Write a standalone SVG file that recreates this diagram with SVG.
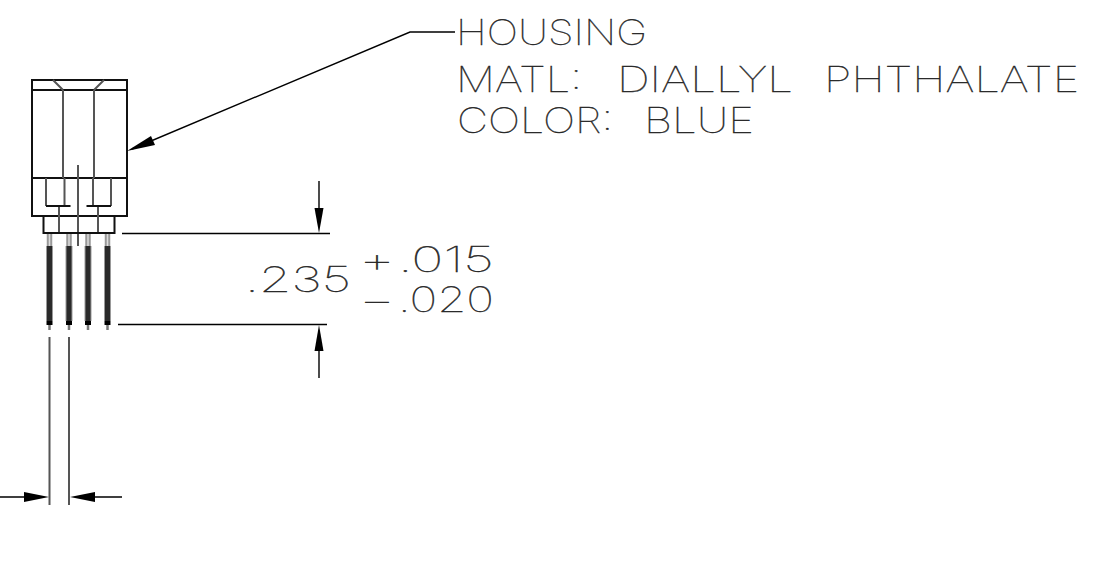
<svg xmlns="http://www.w3.org/2000/svg" width="1102" height="573" viewBox="0 0 1102 573">
<style>
.l{fill:none;stroke:#000;stroke-width:1.4}
.g{fill:none;stroke:#555;stroke-width:2}
.k{fill:none;stroke:#111;stroke-width:2}
.a{fill:#000;stroke:none}
.pu{fill:none;stroke:#999;stroke-width:5.5}
.pc{fill:none;stroke:#ddd;stroke-width:1.5}
.pe{fill:none;stroke:#999;stroke-width:7}
.pd{fill:none;stroke:#2a2a2a;stroke-width:5}
.pb{fill:none;stroke:#000;stroke-width:6}
.pt{fill:none;stroke:#777;stroke-width:2.5}
text{font-family:"Inter","Liberation Sans",sans-serif;font-weight:100;font-size:35px;fill:#222;stroke:#222;stroke-width:.35}
</style>
<rect width="1102" height="573" fill="#fff"/>
<g id="housing">
<rect class="k" x="32" y="80" width="95" height="136"/>
<path class="k" d="M31 90H127M31 178H127" stroke-width="2.4"/>
<path class="g" d="M63 90V178M94 90V178M53 80L63 90M104 80L94 90M78 165V246"/>
<path class="g" d="M46 178V206M64.500 178V206M93 178V206M111 178V206M59 206V233M98 206V233"/>
<path class="k" d="M46 206H70.500M86.500 206H111"/>
<path class="k" d="M43.500 216V233H114.500V216"/>
</g>
<g id="pins">
<g id="pin1"><path class="pu" d="M49.500 234V246"/><path class="pc" d="M49.500 234V246"/><path class="pe" d="M49.500 246V321"/><path class="pd" d="M49.500 246V321"/><path class="pb" d="M49.500 321V325"/><path class="pt" d="M49.500 325V330"/></g>
<g id="pin2"><path class="pu" d="M69 234V246"/><path class="pc" d="M69 234V246"/><path class="pe" d="M69 246V321"/><path class="pd" d="M69 246V321"/><path class="pb" d="M69 321V325"/><path class="pt" d="M69 325V330"/></g>
<g id="pin3"><path class="pu" d="M88 234V246"/><path class="pc" d="M88 234V246"/><path class="pe" d="M88 246V321"/><path class="pd" d="M88 246V321"/><path class="pb" d="M88 321V325"/><path class="pt" d="M88 325V330"/></g>
<g id="pin4"><path class="pu" d="M107.500 234V246"/><path class="pc" d="M107.500 234V246"/><path class="pe" d="M107.500 246V321"/><path class="pd" d="M107.500 246V321"/><path class="pb" d="M107.500 321V325"/><path class="pt" d="M107.500 325V330"/></g>
</g>
<g id="connectors">
<path class="l" d="M132 149L410 32H455"/>
<polygon class="a" points="127,151 151,136 155,145"/>
<path class="l" d="M122 233.500H330M118 324.500H327M319 181V210M319 350V378"/>
<polygon class="a" points="319,233 314.500,208 323.500,208"/>
<polygon class="a" points="319,325 314.500,351 323.500,351"/>
<path class="g" d="M49.500 337V505M69 337V505"/>
<path class="l" d="M0 497H25M95 497H122"/>
<polygon class="a" points="49,497 24,492 24,502"/>
<polygon class="a" points="70,497 95,492 95,502"/>
</g>
<g id="labels" opacity=".99">
<text x="456" y="45" textLength="191" lengthAdjust="spacingAndGlyphs">HOUSING</text>
<text x="456" y="92" textLength="126" lengthAdjust="spacingAndGlyphs">MATL:</text>
<text x="617" y="92" textLength="176" lengthAdjust="spacingAndGlyphs">DIALLYL</text>
<text x="824" y="92" textLength="255" lengthAdjust="spacingAndGlyphs">PHTHALATE</text>
<text x="457" y="133" textLength="156" lengthAdjust="spacingAndGlyphs">COLOR:</text>
<text x="644" y="133" textLength="110" lengthAdjust="spacingAndGlyphs">BLUE</text>
<text x="245" y="292" textLength="106" lengthAdjust="spacingAndGlyphs">.235</text>
<text x="359" y="272" textLength="36" lengthAdjust="spacingAndGlyphs">+</text>
<text x="398" y="272" textLength="96" lengthAdjust="spacingAndGlyphs">.015</text>
<text x="359" y="312" textLength="36" lengthAdjust="spacingAndGlyphs">−</text>
<text x="398" y="312" textLength="96" lengthAdjust="spacingAndGlyphs">.020</text>
</g>
</svg>
